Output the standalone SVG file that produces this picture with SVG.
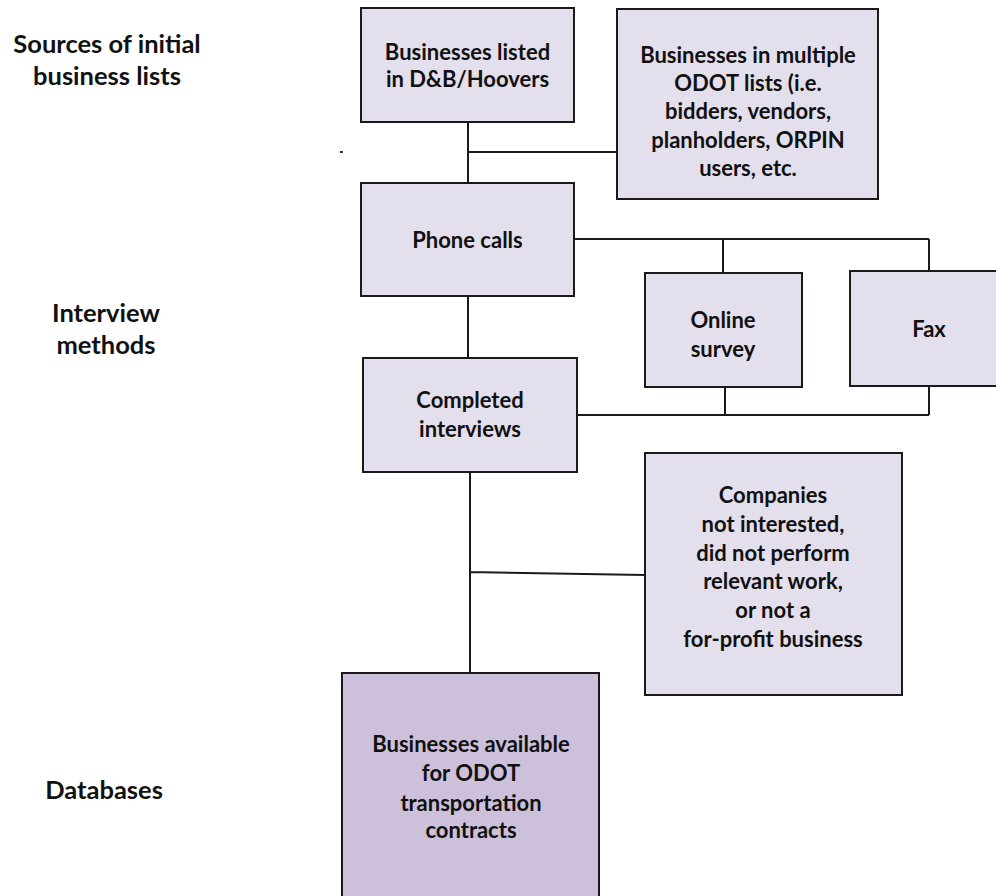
<svg xmlns="http://www.w3.org/2000/svg" width="996" height="896" viewBox="0 0 996 896">
<style>
.box{fill:#E4DFEC;stroke:#1a1a1a;stroke-width:2}
.dark{fill:#CCC0DA}
.t{font-family:Lato,"Liberation Sans",sans-serif;font-weight:bold;font-size:22px;fill:#111;text-anchor:middle}
.lab{font-family:Lato,"Liberation Sans",sans-serif;font-weight:bold;font-size:25.5px;fill:#111;text-anchor:middle}
.c{fill:none;stroke:#1a1a1a;stroke-width:2}
</style>
<rect width="996" height="896" fill="#fff"/>
<g id="labels">
<text class="lab" x="107" y="53">Sources of initial</text>
<text class="lab" x="107" y="85">business lists</text>
<text class="lab" x="106" y="322">Interview</text>
<text class="lab" x="106" y="354">methods</text>
<text class="lab" x="104" y="799">Databases</text>
<rect x="340" y="151" width="3" height="2" fill="#333"/>
</g>
<g id="connectors">
<path class="c" d="M468 122V183M468 152H617"/>
<path class="c" d="M574 239H929M723 239V273M929 239V271"/>
<path class="c" d="M468 296V358"/>
<path class="c" d="M725 387V415M929 386V415M577 415H929"/>
<path class="c" d="M470 472V673M470 572L645 575"/>
</g>
<g id="n-dnb">
<rect class="box" x="361" y="8" width="213" height="114"/>
<text class="t" x="467.5" y="60">Businesses listed</text>
<text class="t" x="467.5" y="87">in D&amp;B/Hoovers</text>
</g>
<g id="n-odot">
<rect class="box" x="617" y="9" width="261" height="190"/>
<text class="t" x="748" y="63">Businesses in multiple</text>
<text class="t" x="748" y="91">ODOT lists (i.e.</text>
<text class="t" x="748" y="119">bidders, vendors,</text>
<text class="t" x="748" y="148">planholders, ORPIN</text>
<text class="t" x="748" y="176">users, etc.</text>
</g>
<g id="n-phone">
<rect class="box" x="361" y="183" width="213" height="113"/>
<text class="t" x="467.5" y="248">Phone calls</text>
</g>
<g id="n-online">
<rect class="box" x="645" y="273" width="157" height="114"/>
<text class="t" x="723" y="328">Online</text>
<text class="t" x="723" y="357">survey</text>
</g>
<g id="n-fax">
<rect class="box" x="850" y="271" width="160" height="115"/>
<text class="t" x="929" y="337">Fax</text>
</g>
<g id="n-completed">
<rect class="box" x="363" y="358" width="214" height="114"/>
<text class="t" x="470" y="408">Completed</text>
<text class="t" x="470" y="437">interviews</text>
</g>
<g id="n-companies">
<rect class="box" x="645" y="453" width="257" height="242"/>
<text class="t" x="773" y="503">Companies</text>
<text class="t" x="773" y="532">not interested,</text>
<text class="t" x="773" y="561">did not perform</text>
<text class="t" x="773" y="589">relevant work,</text>
<text class="t" x="773" y="618">or not a</text>
<text class="t" x="773" y="647">for-profit business</text>
</g>
<g id="n-available">
<rect class="box dark" x="342" y="673" width="257" height="240"/>
<text class="t" x="471" y="752">Businesses available</text>
<text class="t" x="471" y="781">for ODOT</text>
<text class="t" x="471" y="811">transportation</text>
<text class="t" x="471" y="838">contracts</text>
</g>
</svg>
